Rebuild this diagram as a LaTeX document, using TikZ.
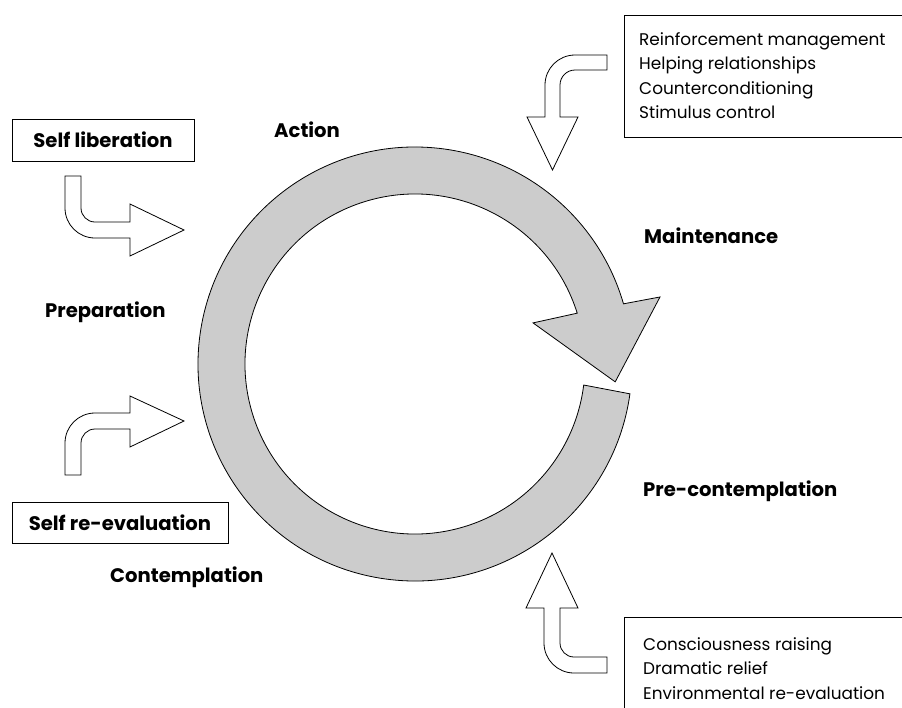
\documentclass[tikz,border=0pt]{standalone}
\usepackage{fontspec}
\setmainfont{Poppins}
\usepackage{tikz}

\begin{document}
\begin{tikzpicture}[x=1pt, y=-1pt,
    stage/.style={font=\bfseries\fontsize{19.6}{22}\selectfont, inner sep=0pt, anchor=base west},
    selfbox/.style={draw, line width=1pt, font=\bfseries\fontsize{19.6}{22}\selectfont, inner sep=0pt},
    items/.style={font=\fontsize{16.9}{24.6}\selectfont, align=left, inner sep=0pt, anchor=north west},
    listbox/.style={draw, line width=1pt},
    ring/.style={draw, fill=black!20, line width=0.8pt, line join=miter},
    blockarrow/.style={draw, fill=white, line width=0.8pt, line join=miter}]
    \useasboundingbox (0,0) rectangle (902,707);
    \clip (0,0) rectangle (902,707);

    % the cycle
    \begin{scope}[shift={(415,364)}]
    \draw[ring] (7.9:217) arc[start angle=7.9, end angle=343.9, radius=217]
        -- (344.7:254) -- (5.1:201) -- (340.8:125) -- (342.6:170)
        arc[start angle=342.6, end angle=7.1, radius=170] -- cycle;
    \end{scope}

    \node[stage] (action) at (274,137) {Action};
    \node[stage] (maint) at (644,243) {Maintenance};
    \node[stage] (prep) at (45,317) {Preparation};
    \node[stage] (precont) at (643,496) {Pre-contemplation};
    \node[stage] (cont) at (110,582) {Contemplation};

    \node[selfbox, minimum width=182pt, minimum height=42pt] (selflib) at (103,140) {Self liberation};
    \node[selfbox, minimum width=216pt, minimum height=41pt] (selfre) at (120,522.5) {Self re-evaluation};

    \draw[listbox] (624,15) rectangle (960,137);
    \node[items] (topitems) at (639,32) {Reinforcement management\\Helping relationships\\Counterconditioning\\Stimulus control};
    \draw[listbox] (624,617) rectangle (960,760);
    \node[items] (bottomitems) at (643,637) {Consciousness raising\\Dramatic relief\\Environmental re-evaluation};

    % block arrows
    \draw[blockarrow] (65,176) -- (65,208) arc[start angle=180, end angle=90, radius=30]
        -- (130,238) -- (130,256) -- (184,230) -- (130,204) -- (130,222) -- (95,222)
        arc[start angle=90, end angle=180, radius=14] -- (81,176) -- cycle;
    \draw[blockarrow] (65,475) -- (65,443) arc[start angle=180, end angle=270, radius=30]
        -- (130,413) -- (130,396) -- (184,421) -- (130,447) -- (130,429) -- (95,429)
        arc[start angle=270, end angle=180, radius=14] -- (81,475) -- cycle;
    \draw[blockarrow] (607,55) -- (575,55) arc[start angle=270, end angle=180, radius=30]
        -- (545,117) -- (527,117) -- (552.5,170) -- (578,117) -- (560,117) -- (560,85)
        arc[start angle=180, end angle=270, radius=15] -- (607,70) -- cycle;
    \draw[blockarrow] (552,553) -- (578,608) -- (560,608) -- (560,643)
        arc[start angle=180, end angle=90, radius=14] -- (607,657) -- (607,673) -- (574,673)
        arc[start angle=90, end angle=180, radius=30] -- (544,608) -- (526,608) -- cycle;
\end{tikzpicture}
\end{document}
